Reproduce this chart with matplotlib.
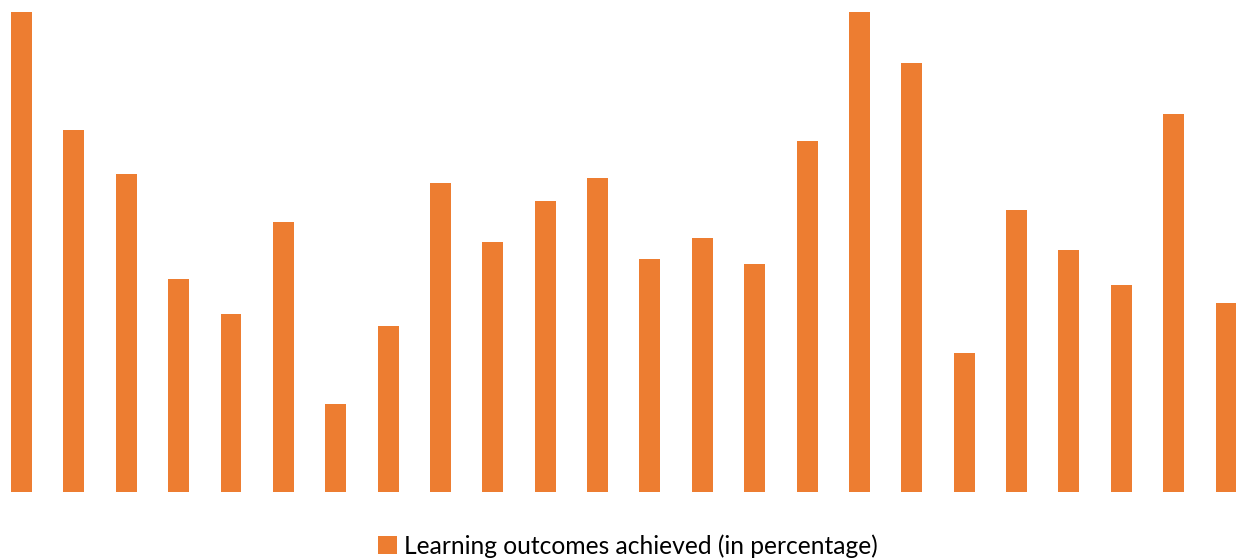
import matplotlib.pyplot as plt
import numpy as np

# learning outcomes achieved per group (percent)
groups = [str(i) for i in range(1, 25)]
outcomes = [100.0, 75.4, 66.3, 44.4, 37.1, 56.3, 18.3, 34.6, 64.4, 52.1, 60.6, 65.4,
            48.5, 52.9, 47.5, 73.1, 100.0, 89.4, 29.0, 58.8, 50.4, 43.1, 78.8, 39.4]

fig = plt.figure(figsize=(12.36, 5.58), dpi=100)
ax = fig.add_axes([0, 66 / 558, 1, 480 / 558])

x = np.arange(len(groups))
ax.bar(x, outcomes, width=0.40, color='#ED7D31',
       label='Learning outcomes achieved (in percentage)')
ax.set_xlim(-21.5 / 52.37, 23 + 10 / 52.37)
ax.set_ylim(0, 100)
ax.axis('off')

leg = fig.legend(loc='center', bbox_to_anchor=(0.5 + 10 / 1236, 1 - 546 / 558), frameon=False,
                 prop={'family': 'Lato', 'size': 17.7}, handlelength=0.75, handleheight=0.75,
                 handletextpad=0.3)

fig.savefig('out.png', dpi=100)
